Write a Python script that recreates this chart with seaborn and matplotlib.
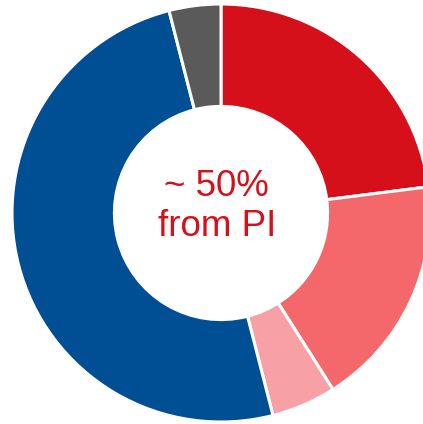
import matplotlib
matplotlib.use("Agg")
import matplotlib.pyplot as plt
import seaborn as sns

categories = ["PI core", "PI growth", "PI other", "Blue segment", "Other"]
values = [23, 18, 5, 50, 4]
colors = ["#D6101A", "#F4676B", "#F7A1A6", "#004E93", "#5A5A5A"]
center_text = "~ 50%\nfrom PI"

sns.set_theme(style="white")
plt.rcParams["font.family"] = ["Liberation Sans", "DejaVu Sans"]

fig = plt.figure(figsize=(4.23, 4.24), dpi=100)
ax = fig.add_axes([0, 0, 1, 1])
palette = sns.color_palette(colors)

ax.pie(values, colors=palette, startangle=90, counterclock=False,
       radius=1.0,
       wedgeprops=dict(width=0.49, edgecolor="white", linewidth=2.2))
ax.text(-0.02, 0.03, center_text, ha="center", va="center",
        fontsize=26.5, color="#D6101A", linespacing=1.2)

ax.set_xlim(-221 / 209, (423 - 221) / 209)
ax.set_ylim(-(424 - 213) / 209, 213 / 209)
ax.set_aspect("equal")
ax.axis("off")
fig.savefig("out.png", dpi=100, facecolor="white")
